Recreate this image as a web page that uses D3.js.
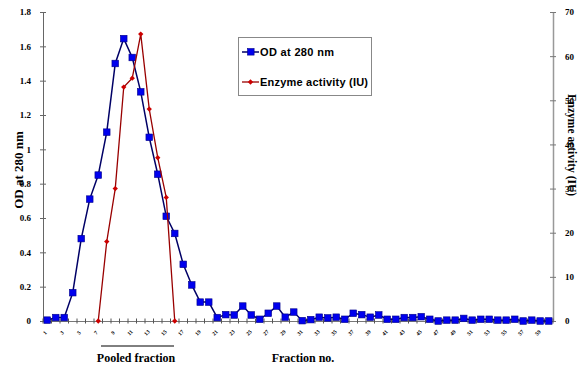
<!DOCTYPE html>
<html>
<head>
<meta charset="utf-8">
<script src="https://cdn.jsdelivr.net/npm/d3@7"></script>
<style>
  body { margin: 0; background: #fff; }
  svg { display: block; }
</style>
</head>
<body>
<svg id="chart" width="580" height="366"></svg>
<script>
// fraction numbers 1..60
var fractions = [1,2,3,4,5,6,7,8,9,10,11,12,13,14,15,16,17,18,19,20,
                 21,22,23,24,25,26,27,28,29,30,31,32,33,34,35,36,37,38,39,40,
                 41,42,43,44,45,46,47,48,49,50,51,52,53,54,55,56,57,58,59,60];
var xLabels = [1,3,5,7,9,11,13,15,17,19,21,23,25,27,29,31,33,35,37,39,41,43,45,47,49,51,53,55,57,59];

// OD at 280 nm
var od = [0.005,0.02,0.02,0.165,0.48,0.71,0.85,1.1,1.5,1.645,
          1.535,1.335,1.07,0.855,0.61,0.51,0.33,0.21,0.11,0.11,
          0.02,0.037,0.035,0.087,0.035,0.01,0.045,0.087,0.022,0.052,
          0.002,0.008,0.022,0.018,0.022,0.01,0.045,0.037,0.022,0.035,
          0.01,0.01,0.02,0.02,0.025,0.01,0.0,0.005,0.005,0.015,
          0.005,0.01,0.01,0.005,0.005,0.01,0.0,0.005,0.0,0.0];

// enzyme activity (IU), fractions 7..16
var enzFractions = [7,8,9,10,11,12,13,14,15,16];
var enzyme = [0,18,30,53,55,65,48,37,28,0];

var leftTicks = [0,0.2,0.4,0.6,0.8,1,1.2,1.4,1.6,1.8];
var rightTicks = [0,10,20,30,40,50,60,70];

var svg = d3.select("#chart"),
    plotL = 43, plotR = 553, plotT = 12, plotB = 321;

var x = d3.scaleBand().domain(fractions).range([plotL, plotR]);
var yL = d3.scaleLinear().domain([0, 1.8]).range([plotB, plotT]);
var yR = d3.scaleLinear().domain([0, 70]).range([plotB, plotT]);
var cx = function(f) { return x(f) + x.bandwidth() / 2; };

var serif = "'Liberation Serif', 'Times New Roman', serif";

// left axis
var gL = svg.append("g")
    .attr("transform", "translate(" + plotL + ",0)")
    .call(d3.axisLeft(yL).tickValues(leftTicks).tickFormat(function(d) { return String(d); }).tickSizeOuter(0).tickPadding(6));
gL.select(".domain").attr("stroke", "#666");
gL.selectAll(".tick line").attr("x1", 3).attr("x2", -3).attr("stroke", "#666");
gL.selectAll(".tick text")
    .style("font", "bold 9px " + serif).attr("fill", "#000");

// right axis
var gR = svg.append("g")
    .attr("transform", "translate(" + plotR + ",0)")
    .call(d3.axisRight(yR).tickValues(rightTicks).tickSizeOuter(0).tickPadding(6));
gR.select(".domain").attr("stroke", "#999").attr("stroke-width", 1.5);
gR.selectAll(".tick line").attr("x1", -3).attr("x2", 3).attr("stroke", "#777");
gR.selectAll(".tick text")
    .style("font", "bold 9px " + serif).attr("fill", "#000");

// bottom axis
var gB = svg.append("g")
    .attr("transform", "translate(0," + plotB + ")")
    .call(d3.axisBottom(x).tickValues(xLabels).tickSize(0).tickPadding(0));
gB.select(".domain").attr("stroke", "#777");
gB.selectAll(".tick text")
    .attr("y", 0).attr("dy", 0)
    .attr("text-anchor", "middle")
    .attr("transform", "translate(-1,13) rotate(-45)")
    .style("font", "bold 5.5px " + serif).attr("fill", "#000");
gB.selectAll(".cat-tick")
    .data(fractions.concat([null]))
    .enter().append("line")
    .attr("class", "cat-tick")
    .attr("x1", function(d) { return d === null ? plotR : x(d); })
    .attr("x2", function(d) { return d === null ? plotR : x(d); })
    .attr("y1", -2.5).attr("y2", 2.5)
    .attr("stroke", "#555");

// OD line + square markers
var odLine = d3.line()
    .x(function(d, i) { return cx(fractions[i]); })
    .y(function(d) { return yL(d); });
svg.append("path")
    .datum(od)
    .attr("d", odLine)
    .attr("fill", "none")
    .attr("stroke", "#000066")
    .attr("stroke-width", 1.5);
svg.selectAll(".od-dot")
    .data(od)
    .enter().append("rect")
    .attr("class", "od-dot")
    .attr("x", function(d, i) { return cx(fractions[i]) - 3.3; })
    .attr("y", function(d) { return yL(d) - 3.3; })
    .attr("width", 6.6).attr("height", 6.6)
    .attr("fill", "#0000ee")
    .attr("stroke", "#000088")
    .attr("stroke-width", 0.6);

// enzyme line + diamond markers
var enzLine = d3.line()
    .x(function(d, i) { return cx(enzFractions[i]); })
    .y(function(d) { return yR(d); });
svg.append("path")
    .datum(enzyme)
    .attr("d", enzLine)
    .attr("fill", "none")
    .attr("stroke", "#990000")
    .attr("stroke-width", 1.3);
svg.selectAll(".enz-dot")
    .data(enzyme)
    .enter().append("path")
    .attr("class", "enz-dot")
    .attr("d", d3.symbol().type(d3.symbolDiamond2).size(18))
    .attr("transform", function(d, i) { return "translate(" + cx(enzFractions[i]) + "," + yR(d) + ")"; })
    .attr("fill", "#cc0000");

// axis titles
svg.append("text")
    .attr("transform", "translate(23,170) rotate(-90)")
    .attr("text-anchor", "middle")
    .style("font", "bold 13px " + serif)
    .text("OD at 280 nm");
svg.append("text")
    .attr("transform", "translate(568,145) rotate(90)")
    .attr("text-anchor", "middle")
    .style("font", "bold 11.5px " + serif)
    .text("Enzyme activity (IU)");

svg.append("line")
    .attr("x1", 101).attr("x2", 174).attr("y1", 346).attr("y2", 346)
    .attr("stroke", "#000").attr("stroke-width", 1);
svg.append("text")
    .attr("x", 136).attr("y", 362)
    .attr("text-anchor", "middle")
    .style("font", "bold 12px " + serif)
    .text("Pooled fraction");
svg.append("text")
    .attr("x", 303).attr("y", 362)
    .attr("text-anchor", "middle")
    .style("font", "bold 12px " + serif)
    .text("Fraction no.");

// legend
var lg = svg.append("g");
lg.append("rect")
    .attr("x", 238.5).attr("y", 37.5).attr("width", 133).attr("height", 58)
    .attr("fill", "#fff").attr("stroke", "#888");
lg.append("line").attr("x1", 242).attr("x2", 259).attr("y1", 52).attr("y2", 52)
    .attr("stroke", "#000066").attr("stroke-width", 1.5);
lg.append("rect").attr("x", 247.5).attr("y", 48.5).attr("width", 6.6).attr("height", 6.6)
    .attr("fill", "#0000ee").attr("stroke", "#000088").attr("stroke-width", 0.6);
lg.append("text").attr("x", 260).attr("y", 56)
    .style("font", "bold 11px 'Liberation Sans', Arial, sans-serif")
    .attr("textLength", 74)
    .text("OD at 280 nm");
lg.append("line").attr("x1", 242).attr("x2", 259).attr("y1", 82).attr("y2", 82)
    .attr("stroke", "#990000").attr("stroke-width", 1.3);
lg.append("path").attr("d", d3.symbol().type(d3.symbolDiamond2).size(18))
    .attr("transform", "translate(250.5,82)").attr("fill", "#cc0000");
lg.append("text").attr("x", 260).attr("y", 86)
    .style("font", "bold 11px 'Liberation Sans', Arial, sans-serif")
    .attr("textLength", 108)
    .text("Enzyme activity (IU)");
</script>
</body>
</html>
